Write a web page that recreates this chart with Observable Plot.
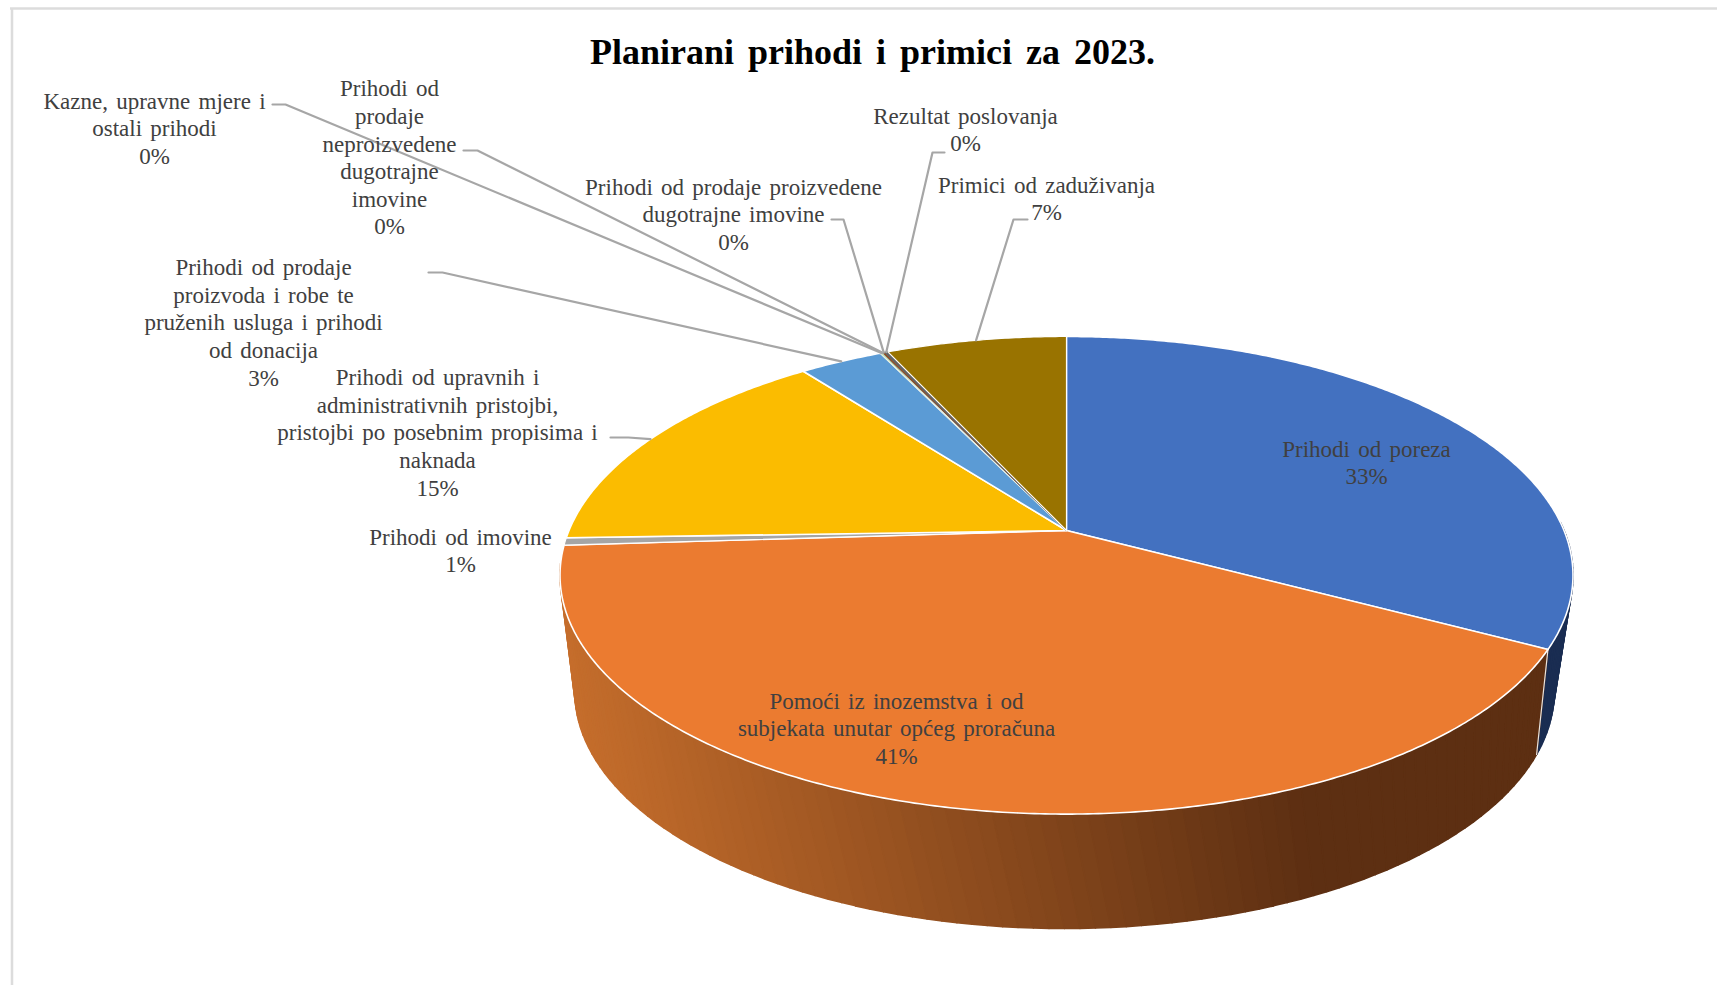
<!DOCTYPE html>
<html><head><meta charset="utf-8">
<style>html,body{margin:0;padding:0;background:#fff;overflow:hidden}svg{display:block}</style>
<script src="https://cdn.jsdelivr.net/npm/d3@7"></script>
<script src="https://cdn.jsdelivr.net/npm/@observablehq/plot@0.6"></script>
</head><body><div id="chart"></div>
<script>
const titleText = "Planirani prihodi i primici za 2023.";
const categories = [
  "Prihodi od poreza",
  "Pomoći iz inozemstva i od\nsubjekata unutar općeg proračuna",
  "Prihodi od imovine",
  "Prihodi od upravnih i\nadministrativnih pristojbi,\npristojbi po posebnim propisima i\nnaknada",
  "Prihodi od prodaje\nproizvoda i robe te\npruženih usluga i prihodi\nod donacija",
  "Kazne, upravne mjere i\nostali prihodi",
  "Prihodi od\nprodaje\nneproizvedene\ndugotrajne\nimovine",
  "Prihodi od prodaje proizvedene\ndugotrajne imovine",
  "Rezultat poslovanja",
  "Primici od zaduživanja"
];
const shares = [32.8, 41.2, 0.5, 15.1, 3.2, 0.08, 0.02, 0.07, 0.13, 6.9];
const colors = ["#4371C0","#EB7B30","#A5A5A5","#FBBC00","#5B9BD5","#70AD47","#264478","#9E480E","#636363","#997300"];
const edgeColors = ["#fff","#fff","#fff","#fff","#fff","#E8F0E2","#264478","#9E480E","#636363","#fff"];
const edgeWidths = [1.6,1.6,1.2,1.6,1.6,1.2,0.3,0.7,1.2,1.2];
const wallNavy = "#1A2D52";
const wallShade = ["#C66E2C","#5D2F12"];

// layout, separate from the values: label centres and leader elbows
const labelX = [1366, 896, 460, 437, 263, 154, 389, 733, 965, 1046];
const labelY = [461, 727, 549, 431, 321, 127, 156, 213, 128, 197];
const elbows = {
  3:[[610,437],[628,437]],
  4:[[428,272],[442,272]],
  5:[[272,104],[285,104]],
  6:[[463,150],[477,150]],
  7:[[831,219],[843,219]],
  8:[[944,152],[932,152]],
  9:[[1027,219],[1013,219]]
};

// perspective of the pie
const P = 0.1876;
const topG = {cx:1066, cy:530, A:497.5, B:230.4};
const botG = {cx:1064, cy:646.5, A:481, B:228.7};
function proj(deg, r, g){
  const t = deg*Math.PI/180, u = r*Math.sin(t), v = r*Math.cos(t), w = 1+P*v;
  return [g.cx+g.A*u/w, g.cy-g.B*v/w];
}
const total = d3.sum(shares);
let acc = 0;
const slices = shares.map((s,i)=>{const a0=acc/total*360; acc+=s; return {i,a0,a1:acc/total*360,mid:(a0+(acc/total*360))/2};});

function arc(a0,a1,g){
  const n=Math.max(2,Math.ceil((a1-a0)/0.5)), out=[];
  for(let k=0;k<=n;k++) out.push(proj(a0+(a1-a0)*k/n,1,g));
  return out;
}
// top faces
const faces=[];
slices.forEach(s=>{
  const pts=[[topG.cx,topG.cy],...arc(s.a0,s.a1,topG),[topG.cx,topG.cy]];
  pts.forEach(p=>faces.push({id:s.i,x:p[0],y:p[1],c:colors[s.i],sc:edgeColors[s.i],sw:edgeWidths[s.i]}));
});
// side walls: narrow bands, shaded left to right
const SK=2.5;
const walls=[];
function band(id,a0,a1,c){
  const q=[proj(a0,1,topG),proj(a1,1,topG),proj(a1-SK,1,botG),proj(a0-SK,1,botG),proj(a0,1,topG)];
  q.forEach(p=>walls.push({id,x:p[0],y:p[1],c}));
}
const shade=d3.interpolateRgb(wallShade[0],wallShade[1]);
const leftA=slices[1].a0, rightA=262;
for(let a=88;a<leftA;a+=1) band("b"+a,a,Math.min(a+1,leftA),wallNavy);
for(let a=rightA;a>leftA;a-=1.5){
  const a0=Math.max(a-1.5,leftA), x=proj(a-0.75,1,botG)[0];
  band("o"+a,a0,a,shade(Math.max(0,Math.min(1,(x-570)/720))));
}
const wallEdge=[proj(leftA,1,topG),proj(leftA-SK,1,botG)].map(p=>({x:p[0],y:p[1]}));

// leaders
const leaders=[];
Object.entries(elbows).forEach(([k,pts])=>{
  const i=+k;
  [...pts,proj(slices[i].mid,1,topG)].forEach(p=>leaders.push({id:i,x:p[0],y:p[1]}));
});
const labels=categories.map((c,i)=>({t:c+"\n"+Math.round(shares[i])+"%",x:labelX[i],y:labelY[i]}));

const chart=Plot.plot({
  width:1717,height:985,margin:0,
  x:{domain:[0,1717],range:[0,1717],axis:null},
  y:{domain:[0,985],range:[0,985],axis:null},
  color:{type:"identity"},
  style:{background:"#fff",fontFamily:"'Liberation Serif',serif",wordSpacing:"2.5px"},
  marks:[
    Plot.ruleX([11.5],{y1:8,y2:985,stroke:"#DCDCDC",strokeWidth:2.5}),
    Plot.ruleY([8],{x1:10,x2:1717,stroke:"#DCDCDC",strokeWidth:2.5}),
    Plot.line(walls,{x:"x",y:"y",z:"id",fill:"c",stroke:"c",strokeWidth:1.6,curve:"linear"}),
    Plot.line(wallEdge,{x:"x",y:"y",stroke:"#E8E4E0",strokeWidth:1.2,curve:"linear"}),
    Plot.line(faces,{x:"x",y:"y",z:"id",fill:"c",stroke:"sc",strokeWidth:"sw",curve:"linear"}),
    Plot.line(leaders,{x:"x",y:"y",z:"id",stroke:"#A6A6A6",strokeWidth:2.2,curve:"linear"}),
    Plot.text(labels,{x:"x",y:"y",text:"t",fill:"#404040",fontSize:23,lineHeight:1.2,lineAnchor:"middle",textAnchor:"middle"}),
    Plot.text([titleText],{x:()=>872,y:()=>52,text:d=>d,fill:"#000",fontSize:36,fontWeight:"bold",lineAnchor:"middle",textAnchor:"middle"})
  ]
});
chart.querySelectorAll('g[aria-label="text"]')[1].style.wordSpacing="5px";
document.getElementById("chart").append(chart);
</script></body></html>
